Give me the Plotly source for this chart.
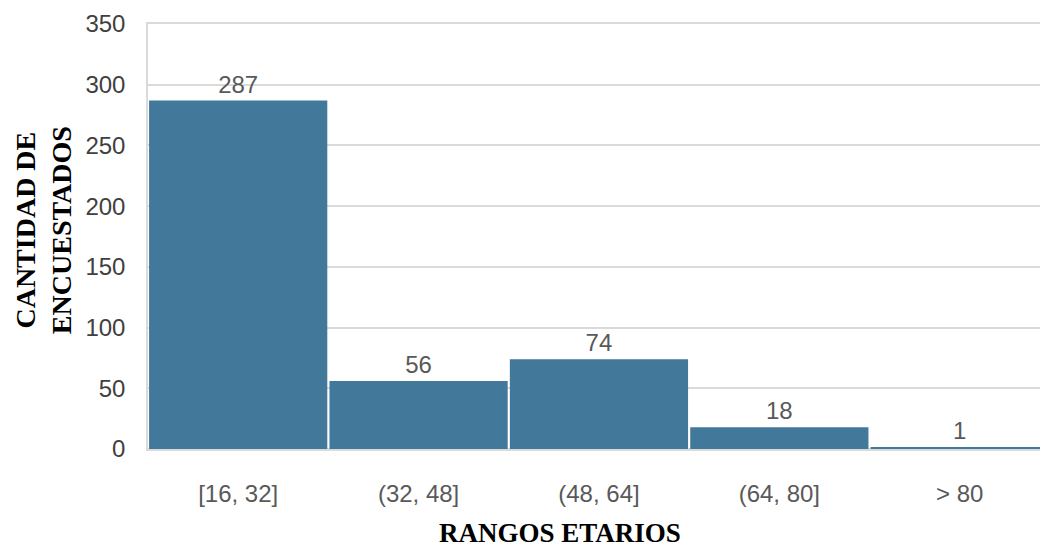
import plotly.graph_objects as go

categories = ["[16, 32]", "(32, 48]", "(48, 64]", "(64, 80]", "> 80"]
values = [287, 56, 74, 18, 1]
y_ticks = [0, 50, 100, 150, 200, 250, 300, 350]

bar_color = "#42789A"
text_color = "#595959"
grid_color = "#dadada"

fig = go.Figure(
    go.Bar(
        x=categories,
        y=values,
        text=[str(v) for v in values],
        textposition="outside",
        textfont=dict(family="Liberation Sans, Arial", size=24, color=text_color),
        marker=dict(color=bar_color, line=dict(width=0)),
        cliponaxis=False,
    )
)

fig.update_layout(
    width=1040,
    height=550,
    margin=dict(l=148, r=0, t=24, b=101),
    paper_bgcolor="white",
    plot_bgcolor="white",
    bargap=0.012,
    showlegend=False,
    xaxis=dict(
        range=[-0.5, 4.445],
        showgrid=False,
        showline=True,
        linecolor=grid_color,
        linewidth=1.5,
        mirror=True,
        ticks="outside",
        ticklen=22,
        tickcolor="rgba(0,0,0,0)",
        tickfont=dict(family="Liberation Sans, Arial", size=24, color=text_color),
        zeroline=False,
    ),
    yaxis=dict(
        range=[0, 350],
        tickvals=y_ticks,
        showgrid=True,
        gridcolor=grid_color,
        gridwidth=1.5,
        zeroline=True,
        zerolinecolor=grid_color,
        zerolinewidth=1.5,
        showline=True,
        linecolor=grid_color,
        linewidth=1.5,
        layer="below traces",
        ticks="outside",
        ticklen=16,
        tickcolor="rgba(0,0,0,0)",
        tickfont=dict(family="Liberation Sans, Arial", size=24, color="#404040"),
    ),
    annotations=[
        dict(
            text="<b>CANTIDAD DE<br>ENCUESTADOS</b>",
            textangle=-90,
            xref="paper", yref="paper",
            x=-0.1177, y=0.515,
            xanchor="center", yanchor="middle",
            showarrow=False,
            font=dict(family="Liberation Serif, Times New Roman", size=28, color="black"),
        ),
        dict(
            text="<b>RANGOS ETARIOS</b>",
            xref="paper", yref="paper",
            x=0.4619, y=-0.198,
            xanchor="center", yanchor="middle",
            showarrow=False,
            font=dict(family="Liberation Serif, Times New Roman", size=27, color="black"),
        ),
    ],
)

fig.write_html(
    "out.html",
    config={"displayModeBar": False},
    post_script="document.body.style.margin='0';document.body.style.overflow='hidden';",
)
